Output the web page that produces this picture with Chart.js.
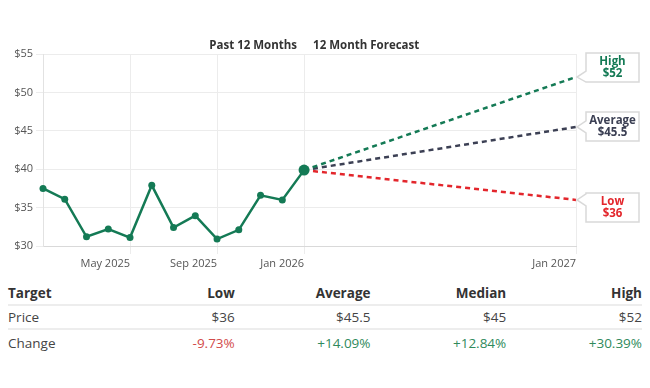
<!DOCTYPE html>
<html>
<head>
<meta charset="utf-8">
<script src="https://cdn.jsdelivr.net/npm/chart.js@4.4.1/dist/chart.umd.min.js"></script>
<style>
  html, body { margin: 0; padding: 0; background: #fff; }
  body { width: 650px; height: 388px; position: relative; overflow: hidden; font-family: 'Open Sans', sans-serif; }
  #chart { position: absolute; left: 0; top: 0; }
  #targets { position: absolute; left: 8px; top: 281px; width: 634px; border-collapse: collapse; font-size: 13.5px; color: #444; table-layout: fixed; }
  #targets th, #targets td { padding: 0; text-align: right; white-space: nowrap; }
  #targets th:first-child, #targets td:first-child { text-align: left; }
  #targets th { font-weight: 700; color: #333; height: 23px; border-bottom: 2px solid #ededed; }
  #targets tr.price td { height: 22px; border-bottom: 2px solid #ededed; }
  #targets tr.change td { height: 26px; }
  #targets .neg { color: #d24b4b; }
  #targets .pos { color: #2f8a5c; }
</style>
</head>
<body>
<canvas id="chart" width="650" height="272"></canvas>
<table id="targets">
  <colgroup><col style="width:91px"><col><col><col><col></colgroup>
</table>
<script>
// past monthly closes, Jan 2025 .. Jan 2026 (month index 0..12)
const pastPrices = [37.5, 36.1, 31.2, 32.2, 31.1, 37.9, 32.4, 33.95, 30.9, 32.1, 36.6, 36.0, 39.88];
// 12 month forecast targets, the lines end a little into Jan 2027
const forecastNames = ['High', 'Average', 'Low'];
const forecastTargets = [52, 45.5, 36];
const forecastMonth = 24.5;
// x axis ticks
const tickMonths = [4, 8, 12, forecastMonth];
const tickLabels = ['May 2025', 'Sep 2025', 'Jan 2026', 'Jan 2027'];
// summary table
const tableCols = ['Low', 'Average', 'Median', 'High'];
const tablePrices = [36, 45.5, 45, 52];
const tableChanges = [-9.73, 14.09, 12.84, 30.39];

const green = '#147a55';
const fcColors = ['#147a55', '#3c4054', '#e3262c'];
const tipOffsets = [24, 15, 7]; // where the callout tail sits inside each box

const lastIdx = pastPrices.length - 1;
const lastPrice = pastPrices[lastIdx];

const datasets = [{
	label: 'Price',
	data: pastPrices.map((v, i) => ({ x: i, y: v })),
	borderColor: green,
	backgroundColor: green,
	borderWidth: 2.5,
	pointRadius: ctx => ctx.dataIndex === lastIdx ? 5.5 : 3.5,
	pointBorderWidth: 0,
	pointBackgroundColor: green,
	tension: 0,
	clip: false,
	order: 0
}];
forecastTargets.forEach(function(t, i) {
	datasets.push({
		label: forecastNames[i],
		data: [{ x: lastIdx, y: lastPrice }, { x: forecastMonth, y: t }],
		borderColor: fcColors[i],
		borderWidth: 2.5,
		borderDash: [5, 4],
		pointRadius: 0,
		tension: 0,
		order: 1
	});
});

// header text + callout boxes at the end of each forecast line
const forecastLabels = {
	id: 'forecastLabels',
	afterDraw(chart) {
		const ctx = chart.ctx;
		const xSplit = chart.scales.x.getPixelForValue(lastIdx);
		ctx.save();
		ctx.font = 'bold 11.5px "Open Sans"';
		ctx.fillStyle = '#333';
		ctx.textBaseline = 'middle';
		ctx.textAlign = 'right';
		ctx.fillText('Past 12 Months', xSplit - 7, 46);
		ctx.textAlign = 'left';
		ctx.fillText('12 Month Forecast', xSplit + 9, 46);

		forecastNames.forEach(function(name, i) {
			const pt = chart.getDatasetMeta(i + 1).data[1];
			const tipX = pt.x + 1, tipY = pt.y;
			const boxL = tipX + 9, boxR = boxL + 53, h = 29;
			const top = tipY - tipOffsets[i];
			ctx.beginPath();
			ctx.moveTo(boxL, top);
			ctx.lineTo(boxR, top);
			ctx.lineTo(boxR, top + h);
			ctx.lineTo(boxL, top + h);
			ctx.lineTo(boxL, Math.min(tipY + 6, top + h));
			ctx.lineTo(tipX, tipY);
			ctx.lineTo(boxL, Math.max(tipY - 6, top));
			ctx.closePath();
			ctx.fillStyle = '#fff';
			ctx.fill();
			ctx.strokeStyle = '#d9d9d9';
			ctx.lineWidth = 1.5;
			ctx.stroke();
			ctx.fillStyle = fcColors[i];
			ctx.font = 'bold 11.5px "Open Sans"';
			ctx.textAlign = 'center';
			ctx.fillText(name, (boxL + boxR) / 2, top + 8.5);
			ctx.fillText('$' + forecastTargets[i], (boxL + boxR) / 2, top + 21);
		});
		ctx.restore();
	}
};

new Chart(document.getElementById('chart').getContext('2d'), {
	type: 'line',
	data: { datasets: datasets },
	options: {
		responsive: false,
		animation: false,
		devicePixelRatio: 1,
		layout: { padding: { top: 54, right: 74, left: 0, bottom: 0 } },
		plugins: { legend: { display: false }, tooltip: { enabled: false } },
		scales: {
			x: {
				type: 'linear',
				min: 0,
				max: forecastMonth,
				afterBuildTicks: axis => { axis.ticks = tickMonths.map(v => ({ value: v })); },
				afterFit: scale => { scale.height = 26; },
				ticks: {
					callback: (v, i) => tickLabels[i],
					align: 'end',
					maxRotation: 0,
					autoSkip: false,
					color: '#555',
					font: { family: 'Open Sans', size: 11 }
				},
				grid: { color: '#ececec', tickLength: 8 },
				border: { color: '#d9d9d9' }
			},
			y: {
				min: 30,
				max: 55,
				afterFit: scale => { scale.width = 43; },
				ticks: {
					stepSize: 5,
					callback: v => '$' + v,
					color: '#555',
					padding: 3,
					font: { family: 'Open Sans', size: 11 }
				},
				grid: { color: '#ececec', tickLength: 7 },
				border: { color: '#e2e2e2' }
			}
		}
	},
	plugins: [forecastLabels]
});

// summary table
const tbl = document.getElementById('targets');
let rows = '<tr><th>Target</th>' + tableCols.map(c => '<th>' + c + '</th>').join('') + '</tr>';
rows += '<tr class="price"><td>Price</td>' + tablePrices.map(p => '<td>$' + p + '</td>').join('') + '</tr>';
rows += '<tr class="change"><td>Change</td>' + tableChanges.map(c =>
	'<td class="' + (c < 0 ? 'neg' : 'pos') + '">' + (c < 0 ? '' : '+') + c.toFixed(2) + '%</td>').join('') + '</tr>';
tbl.insertAdjacentHTML('beforeend', rows);
</script>
</body>
</html>
